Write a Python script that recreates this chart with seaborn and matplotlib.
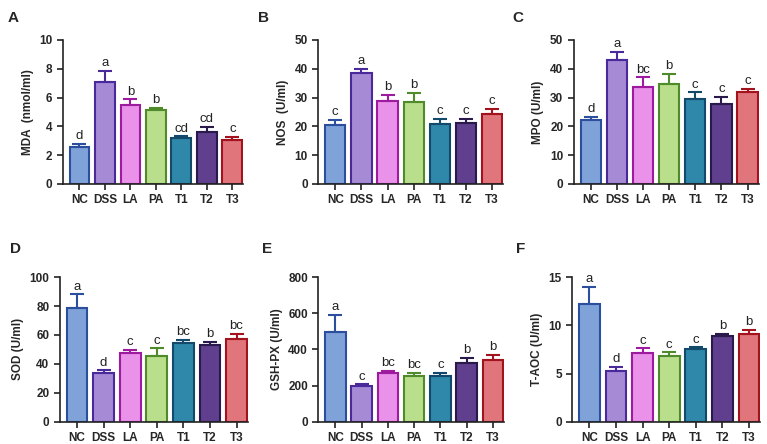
import matplotlib
matplotlib.use('Agg')
import matplotlib.pyplot as plt
import numpy as np
import pandas as pd
import seaborn as sns

groups = ['NC', 'DSS', 'LA', 'PA', 'T1', 'T2', 'T3']
fill_colors = ['#7FA3D9', '#A68AD6', '#EA92EA', '#BADF8C', '#2F88A9', '#5F3F8E', '#E0767B']
edge_colors = ['#2B4F9C', '#4A2A9B', '#9E1A9E', '#4F8B2B', '#13496A', '#2A1A4B', '#A3131D']

mda_mean = [2.58, 7.08, 5.45, 5.10, 3.20, 3.57, 3.08]
mda_err = [0.22, 0.78, 0.42, 0.20, 0.10, 0.40, 0.18]
mda_sig = ['d', 'a', 'b', 'b', 'cd', 'cd', 'c']

nos_mean = [20.6, 38.5, 28.8, 28.6, 20.9, 21.1, 24.4]
nos_err = [1.7, 1.5, 2.1, 2.9, 1.7, 1.6, 1.6]
nos_sig = ['c', 'a', 'b', 'b', 'c', 'c', 'c']

mpo_mean = [22.3, 43.0, 33.8, 34.7, 29.4, 27.6, 32.0]
mpo_err = [1.0, 2.9, 3.2, 3.6, 2.4, 2.7, 1.0]
mpo_sig = ['d', 'a', 'bc', 'b', 'c', 'c', 'c']

sod_mean = [78.5, 33.5, 47.5, 45.7, 54.2, 53.2, 57.5]
sod_err = [9.5, 2.0, 2.0, 5.0, 2.3, 2.0, 3.5]
sod_sig = ['a', 'd', 'c', 'c', 'bc', 'b', 'bc']

gsh_mean = [497, 200, 272, 255, 255, 327, 340]
gsh_err = [93, 7, 11, 17, 17, 28, 28]
gsh_sig = ['a', 'c', 'bc', 'bc', 'c', 'b', 'b']

taoc_mean = [12.25, 5.30, 7.15, 6.80, 7.55, 8.90, 9.15]
taoc_err = [1.75, 0.40, 0.45, 0.40, 0.15, 0.25, 0.40]
taoc_sig = ['a', 'd', 'c', 'c', 'c', 'b', 'b']

panels = [
    ('A', 'MDA  (nmol/ml)', mda_mean, mda_err, mda_sig, 10, 2, [0.082, 0.586, 0.235, 0.324]),
    ('B', 'NOS  (U/ml)', nos_mean, nos_err, nos_sig, 50, 10, [0.415, 0.586, 0.241, 0.324]),
    ('C', 'MPO (U/ml)', mpo_mean, mpo_err, mpo_sig, 50, 10, [0.748, 0.586, 0.241, 0.324]),
    ('D', 'SOD (U/ml)', sod_mean, sod_err, sod_sig, 100, 20, [0.078, 0.050, 0.245, 0.326]),
    ('E', 'GSH-PX (U/ml)', gsh_mean, gsh_err, gsh_sig, 800, 200, [0.415, 0.050, 0.242, 0.326]),
    ('F', 'T-AOC (U/ml)', taoc_mean, taoc_err, taoc_sig, 15, 5, [0.746, 0.050, 0.245, 0.326]),
]
label_pos = {'A': (0.010, 0.975), 'B': (0.337, 0.975), 'C': (0.668, 0.975),
             'D': (0.013, 0.455), 'E': (0.342, 0.455), 'F': (0.673, 0.455)}

sns.set_style('ticks')
plt.rcParams['font.family'] = ['Liberation Sans', 'DejaVu Sans']

fig = plt.figure(figsize=(7.67, 4.44), dpi=100)

for name, ylabel, mean, err, sig, ymax, step, rect in panels:
    ax = fig.add_axes(rect)
    df = pd.DataFrame({'Group': groups, 'Value': mean})
    sns.barplot(x='Group', y='Value', hue='Group', data=df, order=groups,
                hue_order=groups, palette=fill_colors, legend=False,
                saturation=1, width=0.78, ax=ax, errorbar=None)
    for patch, ec in zip(ax.patches, edge_colors):
        patch.set_edgecolor(ec)
        patch.set_linewidth(1.5)
    for i, (m, e, ec) in enumerate(zip(mean, err, edge_colors)):
        ax.errorbar(i, m, yerr=[[0], [e]], fmt='none', ecolor=ec,
                    elinewidth=1.5, capsize=5, capthick=1.5, zorder=3)
        ax.text(i, m + e + ymax * 0.012, sig[i], ha='center', va='bottom',
                fontsize=9.5, color='#222222')
    ax.set_ylim(0, ymax)
    ax.set_yticks(np.arange(0, ymax + step / 2, step))
    ax.set_xlim(-0.65, 6.42)
    ax.set_xlabel('')
    ax.set_ylabel(ylabel, fontsize=8.5, fontweight='bold', labelpad=4)
    ax.tick_params(axis='both', labelsize=8.5, width=1.2, length=4, color='#222222')
    for lbl in ax.get_xticklabels() + ax.get_yticklabels():
        lbl.set_fontweight('bold')
    sns.despine(ax=ax)
    ax.spines['left'].set_linewidth(1.2)
    ax.spines['bottom'].set_linewidth(1.2)
    ax.spines['left'].set_color('#222222')
    ax.spines['bottom'].set_color('#222222')
    ax.grid(False)
    fig.text(*label_pos[name], name, fontsize=11, fontweight='bold', va='top', ha='left')

fig.savefig('out.png', dpi=100)
